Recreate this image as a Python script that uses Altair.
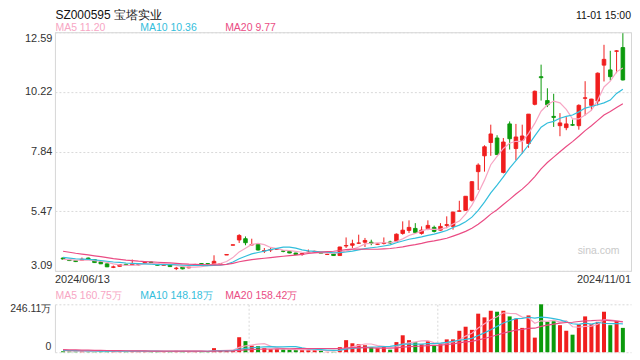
import json
import altair as alt
import numpy as np
import pandas as pd

# ---------------- data ----------------
stock_code = "SZ000595"
stock_name = "宝塔实业"
quote_time = "11-01 15:00"
date_labels = ["2024/06/13", "2024/11/01"]

opens = [3.60, 3.53, 3.50, 3.51, 3.60, 3.54, 3.45, 3.37, 3.23, 3.27,
         3.35, 3.33, 3.33, 3.40, 3.44, 3.38, 3.31, 3.34, 3.18, 3.24,
         3.21, 3.32, 3.38, 3.38, 3.37, 3.37, 3.72, 4.11, 4.32, 4.37,
         4.12, 4.14, 3.88, 3.92, 3.95, 3.88, 3.86, 3.80, 3.74, 3.82,
         3.86, 3.81, 3.74, 3.76, 3.70, 4.08, 4.11, 4.19, 4.23, 4.23,
         4.15, 4.18, 4.24, 4.27, 4.58, 4.70, 4.78, 4.58, 4.77, 4.82,
         4.71, 4.90, 4.86, 5.46, 5.50, 5.90, 7.04, 7.67, 8.20, 8.38,
         7.01, 8.94, 7.96, 8.29, 8.16, 9.72, 10.82, 9.87, 9.24, 8.87,
         8.79, 8.91, 8.87, 9.96, 9.68, 9.85, 11.28, 11.09, 11.83, 11.98]
highs = [3.63, 3.55, 3.52, 3.62, 3.62, 3.56, 3.47, 3.38, 3.30, 3.35,
         3.37, 3.54, 3.38, 3.45, 3.46, 3.39, 3.36, 3.35, 3.25, 3.25,
         3.25, 3.37, 3.40, 3.39, 3.71, 3.40, 3.74, 4.13, 4.55, 4.46,
         4.37, 4.15, 4.00, 4.00, 3.98, 3.92, 3.87, 3.81, 3.80, 3.94,
         3.89, 3.82, 3.77, 3.77, 4.05, 4.42, 4.33, 4.53, 4.40, 4.33,
         4.18, 4.42, 4.29, 4.58, 5.06, 5.10, 4.99, 4.86, 5.10, 4.89,
         4.99, 5.26, 5.45, 5.88, 6.06, 6.66, 7.37, 8.09, 8.91, 8.49,
         8.38, 9.04, 8.94, 8.91, 9.33, 10.27, 11.30, 10.36, 10.14, 9.37,
         9.21, 9.12, 9.72, 10.64, 9.94, 10.99, 12.09, 11.85, 11.88, 12.55]
lows = [3.53, 3.48, 3.44, 3.50, 3.54, 3.41, 3.36, 3.24, 3.20, 3.26,
        3.31, 3.30, 3.31, 3.38, 3.40, 3.29, 3.30, 3.25, 3.12, 3.15,
        3.19, 3.30, 3.34, 3.35, 3.36, 3.35, 3.72, 4.11, 4.20, 4.11,
        4.11, 3.90, 3.80, 3.84, 3.93, 3.83, 3.79, 3.73, 3.69, 3.76,
        3.84, 3.78, 3.73, 3.69, 3.69, 4.00, 4.00, 4.16, 4.04, 4.11,
        4.13, 4.14, 4.16, 4.25, 4.53, 4.60, 4.60, 4.53, 4.71, 4.62,
        4.69, 4.79, 4.73, 5.45, 5.48, 5.85, 6.31, 7.04, 7.67, 7.70,
        6.97, 7.92, 7.50, 7.76, 7.99, 9.68, 9.87, 9.61, 8.82, 8.45,
        8.69, 8.86, 8.71, 9.28, 9.48, 9.68, 10.63, 10.67, 10.96, 10.67]
closes = [3.56, 3.50, 3.46, 3.55, 3.56, 3.42, 3.37, 3.25, 3.25, 3.34,
          3.33, 3.36, 3.35, 3.43, 3.42, 3.31, 3.34, 3.26, 3.20, 3.17,
          3.24, 3.34, 3.36, 3.37, 3.47, 3.38, 3.74, 4.13, 4.50, 4.21,
          4.14, 3.92, 3.90, 3.94, 3.96, 3.87, 3.80, 3.74, 3.78, 3.84,
          3.87, 3.79, 3.75, 3.70, 4.04, 4.10, 4.17, 4.20, 4.30, 4.18,
          4.16, 4.20, 4.20, 4.55, 4.71, 4.82, 4.62, 4.71, 4.90, 4.66,
          4.86, 4.93, 5.43, 5.48, 6.06, 6.64, 7.30, 8.03, 8.54, 7.72,
          8.22, 8.35, 8.42, 8.46, 9.33, 10.24, 10.78, 9.70, 9.20, 8.98,
          8.94, 8.89, 9.68, 9.98, 9.93, 10.96, 11.51, 10.82, 11.85, 10.69]
volumes = [5, 4, 4, 6, 5, 5, 6, 7, 6, 5,
           4, 6, 5, 5, 4, 5, 4, 5, 7, 6,
           4, 5, 4, 4, 21, 11, 7, 9, 77, 57,
           34, 31, 21, 15, 15, 13, 13, 11, 11, 11,
           11, 8, 2, 2, 26, 62, 46, 41, 36, 26,
           21, 28, 13, 52, 87, 62, 51, 41, 57, 33,
           41, 66, 66, 110, 131, 115, 198, 179, 213, 208,
           213, 184, 172, 125, 189, 75, 246.11, 156, 159, 139,
           110, 90, 143, 184, 144, 156, 208, 139, 161, 125]

# estimated sessions before the window, only used to warm up the moving averages
prior_closes = [4.30, 4.26, 4.22, 4.18, 4.14, 4.10, 4.05, 4.00, 3.96, 3.90,
                3.80, 3.75, 3.70, 3.66, 3.64, 3.58, 3.56, 3.54, 3.51]
prior_volumes = [18, 20, 16, 19, 17, 15, 16, 14, 15, 13, 14, 12, 11, 12, 10, 11, 9, 8, 8]

ma_windows = [5, 10, 20]
ma_names = ["MA5", "MA10", "MA20"]
price_ma_shown = [11.20, 10.36, 9.77]
vol_ma_shown = [160.75, 148.18, 158.42]

price_tick_labels = ["3.09", "5.47", "7.84", "10.22", "12.59"]
price_min, price_max = 3.09, 12.59
vol_tick_labels = ["0", "246.11万"]
vol_max = 246.11

# ---------------- styles ----------------
FONT = "Liberation Sans"
RED = "#f01e1e"
GREEN = "#0c9a0c"
MA_COLORS = ["#f7a6c4", "#33bedc", "#ea4c84"]
BORDER = "#d6d6d6"
GRID = "#d9d9d9"
TXT = "#333333"
W, H_P, H_V = 577, 239, 48
TOP = 22        # room above the price panel for title and legend
GAP = 33.5      # gap between price and volume panels

N = len(closes)
xdom = [-0.5, N - 0.5]
xscale = alt.Scale(domain=xdom, nice=False, zero=False)
pscale = alt.Scale(domain=[price_min, price_max], nice=False, zero=False)
vscale = alt.Scale(domain=[0, vol_max], nice=False, zero=True)

candles = pd.DataFrame(dict(i=range(N), o=opens, h=highs, l=lows, c=closes, v=volumes))
candles["col"] = np.where(candles.c >= candles.o, RED, GREEN)


def moving_averages(prior, vals):
    s = pd.Series(list(prior) + list(vals), dtype=float)
    parts = []
    for w, name, col in zip(ma_windows, ma_names, MA_COLORS):
        m = s.rolling(w).mean().iloc[len(prior):].to_numpy()
        parts.append(pd.DataFrame({"i": range(N), "m": m, "name": name, "col": col}))
    return pd.concat(parts, ignore_index=True)


price_ma = moving_averages(prior_closes, closes)
vol_ma = moving_averages(prior_volumes, volumes)

step = (price_max - price_min) / (len(price_tick_labels) - 1)
price_ticks = [round(price_min + k * step, 6) for k in range(len(price_tick_labels))]
price_ticks[-1] = price_max

AX = dict(labelFont=FONT, labelColor=TXT, ticks=False, title=None)

x_price_axis = alt.Axis(values=xdom, labels=False, grid=False, domain=False,
                        ticks=False, title=None)
y_price_axis = alt.Axis(
    values=price_ticks,
    labelExpr=f"{json.dumps(price_tick_labels)}[round((datum.value - {price_min}) / {step})]",
    labelFlush=True, labelPadding=3, labelFontSize=11, grid=True, gridColor=GRID,
    gridDash=[2, 2], domain=False, **AX)
x_vol_axis = alt.Axis(values=[xdom[0] + N / 3, xdom[0] + 2 * N / 3], labels=False,
                      grid=True, gridColor=GRID, gridDash=[2, 2], domain=False,
                      ticks=False, title=None)
y_vol_axis = alt.Axis(values=[0, vol_max], labels=False, grid=True, gridColor=GRID,
                      gridDash=[2, 2], domain=True, domainColor=BORDER, ticks=False,
                      title=None)

XP = alt.X("i:Q", scale=xscale, axis=x_price_axis)
XV = alt.X("i:Q", scale=xscale, axis=x_vol_axis)


def text_layer(text, x, y, color, size, align="left", baseline="alphabetic"):
    return alt.Chart(pd.DataFrame({"t": [text]})).mark_text(
        align=align, baseline=baseline, font=FONT, fontSize=size, color=color
    ).encode(x=alt.value(x), y=alt.value(y), text="t:N")


# ---------------- price panel ----------------
base = alt.Chart(candles)
wicks = base.mark_rule(strokeWidth=1).encode(
    x=XP, y=alt.Y("l:Q", scale=pscale, axis=y_price_axis), y2="h:Q",
    color=alt.Color("col:N", scale=None))
bodies = base.mark_bar(size=3.6, strokeWidth=0.9).encode(
    x=XP, y=alt.Y("o:Q", scale=pscale, axis=y_price_axis), y2="c:Q",
    color=alt.Color("col:N", scale=None), stroke=alt.Stroke("col:N", scale=None))
plines = alt.Chart(price_ma).mark_line(strokeWidth=1.2).encode(
    x=XP, y=alt.Y("m:Q", scale=pscale, axis=y_price_axis),
    color=alt.Color("col:N", scale=None), detail="name:N")

price_texts = [
    text_layer(f"{stock_code} {stock_name}", 0.5, -TOP, "#111111", 12, baseline="top"),
    text_layer(quote_time, W, -TOP + 0.5, "#111111", 10.5, align="right", baseline="top"),
    text_layer("sina.com", W - 11.5, H_P - 17, "#c9c9c9", 10.5, align="right"),
    text_layer(date_labels[0], 0, H_P + 3, TXT, 11, baseline="top"),
    text_layer(date_labels[1], W, H_P + 3, TXT, 11, align="right", baseline="top"),
]
for k, (name, val) in enumerate(zip(ma_names, price_ma_shown)):
    price_texts.append(text_layer(f"{name} {val:.2f}", 0.5 + 85 * k, -1.5, MA_COLORS[k], 10.5))

price = alt.layer(wicks, bodies, plines, *price_texts).properties(
    width=W, height=H_P, view=alt.ViewBackground(stroke=BORDER))

# ---------------- volume panel ----------------
vbars = alt.Chart(candles).mark_bar(size=4).encode(
    x=XV, y=alt.Y("v:Q", scale=vscale, axis=y_vol_axis),
    color=alt.Color("col:N", scale=None))
vlines = alt.Chart(vol_ma).mark_line(strokeWidth=1.2).encode(
    x=XV, y=alt.Y("m:Q", scale=vscale, axis=y_vol_axis),
    color=alt.Color("col:N", scale=None), detail="name:N")
vol_texts = [
    text_layer(vol_tick_labels[1], -3.5, 0, TXT, 10.5, align="right", baseline="top"),
    text_layer(vol_tick_labels[0], -3.5, H_V, TXT, 10.5, align="right", baseline="bottom"),
]
for k, (name, val) in enumerate(zip(ma_names, vol_ma_shown)):
    vol_texts.append(text_layer(f"{name} {val:.2f}万", 0.5 + 85 * k, -8.5, MA_COLORS[k], 10.5,
                                baseline="middle"))

volume = alt.layer(vbars, vlines, *vol_texts).properties(width=W, height=H_V)

chart = alt.vconcat(price, volume, spacing=GAP, bounds="flush").properties(
    padding=0, background="white"
).configure_view(stroke="transparent")

chart.save("out.html", embed_options={"renderer": "svg", "actions": False})
